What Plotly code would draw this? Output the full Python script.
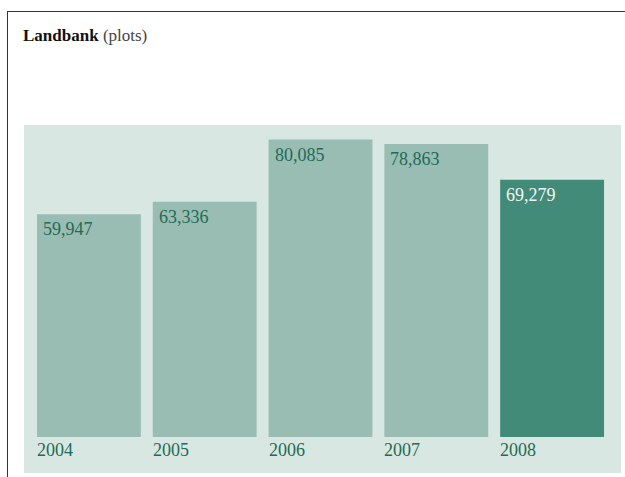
import plotly.graph_objects as go

years = ["2004", "2005", "2006", "2007", "2008"]
plots = [59947, 63336, 80085, 78863, 69279]
bar_colors = ["#99bdb3", "#99bdb3", "#99bdb3", "#99bdb3", "#428b78"]
label_colors = ["#1f6b55", "#1f6b55", "#1f6b55", "#1f6b55", "#f2f5f4"]

W, H = 625, 477
L, R, T, B = 31, 15, 125, 40
pw, ph = W - L - R, H - T - B

def px_x(x):
    return (x - L) / pw

def px_y(y):
    return (H - B - y) / ph

FONT = "Liberation Serif"

fig = go.Figure()
fig.add_trace(go.Bar(
    x=list(range(len(years))), y=plots,
    marker=dict(color=bar_colors, line=dict(width=0)),
    hoverinfo="skip",
))

annotations = []
for i, (yr, v) in enumerate(zip(years, plots)):
    annotations.append(dict(
        x=i, y=v, xref="x", yref="y", text=f"{v:,}", showarrow=False,
        xanchor="left", yanchor="top", xshift=-48, yshift=-3,
        font=dict(family=FONT, size=18, color=label_colors[i]),
    ))
    annotations.append(dict(
        x=i, y=0, xref="x", yref="y", text=yr, showarrow=False,
        xanchor="left", yanchor="top", xshift=-54, yshift=-1,
        font=dict(family=FONT, size=18, color="#1f6b55"),
    ))

annotations.append(dict(
    x=px_x(21), y=px_y(36), xref="paper", yref="paper",
    text="<b>Landbank</b> <span style='color:#444'>(plots)</span>",
    showarrow=False, xanchor="left", yanchor="middle",
    font=dict(family=FONT, size=17, color="#111"),
))

shapes = [
    dict(type="rect", xref="paper", yref="paper", layer="below",
         x0=px_x(24), x1=px_x(621), y0=px_y(473), y1=px_y(125),
         fillcolor="#d9e7e2", line=dict(width=0)),
    dict(type="line", xref="paper", yref="paper",
         x0=px_x(7), x1=px_x(625), y0=px_y(11.5), y1=px_y(11.5),
         line=dict(color="#333333", width=1)),
    dict(type="line", xref="paper", yref="paper",
         x0=px_x(7.5), x1=px_x(7.5), y0=px_y(11), y1=px_y(477),
         line=dict(color="#333333", width=1)),
]

fig.update_layout(
    width=W, height=H,
    margin=dict(l=L, r=R, t=T, b=B),
    paper_bgcolor="white", plot_bgcolor="rgba(0,0,0,0)",
    bargap=0.103, showlegend=False,
    xaxis=dict(range=[-0.5, 4.5], showticklabels=False, showgrid=False,
               zeroline=False, showline=False, ticks=""),
    yaxis=dict(range=[0, 84000], showticklabels=False, showgrid=False,
               zeroline=False, showline=False, ticks=""),
    annotations=annotations, shapes=shapes,
)

fig.write_html("out.html")
